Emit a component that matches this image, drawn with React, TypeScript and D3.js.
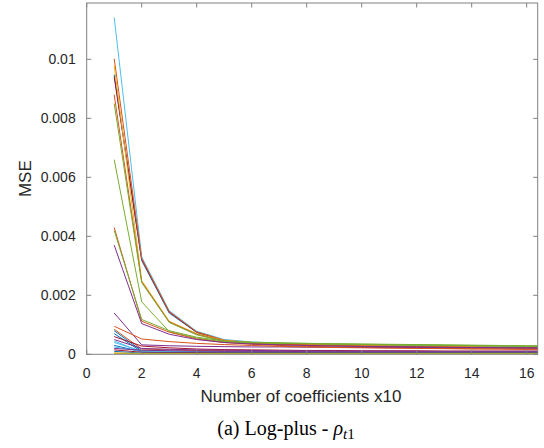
import React from "react";
import * as d3 from "d3";

// x positions (number of coefficients / 10)
const xValues = [1, 2, 3, 4, 5, 6, 7, 8, 9, 10, 11, 12, 13, 14, 15, 16, 17];

// MSE series (one per curve)
const s01 = [0.01142, 0.0033, 0.00148, 0.00078, 0.0005, 0.00042, 0.00038, 0.00035, 0.00033, 0.00031, 0.0003, 0.00029, 0.00028, 0.00027, 0.00026, 0.00025, 0.00025];
const s02 = [0.01002, 0.00325, 0.00145, 0.00076, 0.00048, 0.0004, 0.00036, 0.00033, 0.00031, 0.00029, 0.00028, 0.00027, 0.00026, 0.00025, 0.00024, 0.00023, 0.00023];
const s03 = [0.0098, 0.0025, 0.00112, 0.0007, 0.00047, 0.0004, 0.00036, 0.00033, 0.00031, 0.0003, 0.00028, 0.00027, 0.00026, 0.00025, 0.00024, 0.00023, 0.00023];
const s04 = [0.00948, 0.00318, 0.0014, 0.00074, 0.00046, 0.00038, 0.00034, 0.00031, 0.00029, 0.00027, 0.00026, 0.00025, 0.00024, 0.00023, 0.00022, 0.00021, 0.00021];
const s05 = [0.0094, 0.00322, 0.00143, 0.00075, 0.00047, 0.00039, 0.00035, 0.00032, 0.0003, 0.00028, 0.00027, 0.00026, 0.00025, 0.00024, 0.00023, 0.00022, 0.00022];
const s06 = [0.0088, 0.00246, 0.0011, 0.00068, 0.00045, 0.00038, 0.00034, 0.00032, 0.0003, 0.00028, 0.00027, 0.00026, 0.00025, 0.00024, 0.00023, 0.00022, 0.00022];
const s07 = [0.0085, 0.00243, 0.00108, 0.00066, 0.00044, 0.0004, 0.00038, 0.00037, 0.00035, 0.00034, 0.00033, 0.00032, 0.00031, 0.0003, 0.00029, 0.00028, 0.00028];
const s08 = [0.0066, 0.00178, 0.00077, 0.00055, 0.00042, 0.00039, 0.00037, 0.00036, 0.00034, 0.00033, 0.00032, 0.00031, 0.0003, 0.00029, 0.00028, 0.00027, 0.00027];
const s09 = [0.0043, 0.00112, 0.00075, 0.00052, 0.0004, 0.00034, 0.0003, 0.00027, 0.00025, 0.00023, 0.00022, 0.00021, 0.0002, 0.00019, 0.00018, 0.00017, 0.00017];
const s10 = [0.0042, 0.00118, 0.0008, 0.00058, 0.00045, 0.00041, 0.00039, 0.00037, 0.00036, 0.00035, 0.00034, 0.00033, 0.00032, 0.00031, 0.0003, 0.00029, 0.00029];
const s11 = [0.0037, 0.00104, 0.00068, 0.0005, 0.0004, 0.00035, 0.00032, 0.0003, 0.00028, 0.00027, 0.00026, 0.00025, 0.00024, 0.00023, 0.00022, 0.00021, 0.00021];
const s12 = [0.0014, 0.00032, 0.00029, 0.00027, 0.00026, 0.00025, 0.00025, 0.00024, 0.00024, 0.00023, 0.00023, 0.00023, 0.00022, 0.00022, 0.00022, 0.00022, 0.00022];
const s13 = [0.00095, 0.00052, 0.00043, 0.00037, 0.00033, 0.0003, 0.00027, 0.00025, 0.00023, 0.00022, 0.00021, 0.0002, 0.00019, 0.00018, 0.00018, 0.00017, 0.00017];
const s14 = [0.00085, 0.00018, 0.00015, 0.00013, 0.00012, 0.00011, 0.0001, 0.0001, 0.00009, 0.00009, 0.00009, 0.00008, 0.00008, 0.00008, 0.00008, 0.00008, 0.00008];
const s15 = [0.0008, 0.00012, 0.0001, 0.00009, 0.00008, 0.00008, 0.00007, 0.00007, 0.00007, 0.00006, 0.00006, 0.00006, 0.00006, 0.00006, 0.00006, 0.00006, 0.00006];
const s16 = [0.0007, 0.00009, 0.00008, 0.00007, 0.00007, 0.00006, 0.00006, 0.00006, 0.00006, 0.00005, 0.00005, 0.00005, 0.00005, 0.00005, 0.00005, 0.00005, 0.00005];
const s17 = [0.0006, 0.00028, 0.00022, 0.00018, 0.00016, 0.00015, 0.00014, 0.00013, 0.00013, 0.00012, 0.00012, 0.00012, 0.00011, 0.00011, 0.00011, 0.00011, 0.00011];
const s18 = [0.0005, 0.0002, 0.00017, 0.00015, 0.00014, 0.00013, 0.00012, 0.00012, 0.00011, 0.00011, 0.00011, 0.0001, 0.0001, 0.0001, 0.0001, 0.0001, 0.0001];
const s19 = [0.00045, 0.00008, 0.00007, 0.00006, 0.00006, 0.00006, 0.00005, 0.00005, 0.00005, 0.00005, 0.00005, 0.00005, 0.00005, 0.00005, 0.00005, 0.00005, 0.00005];
const s20 = [0.0004, 0.00011, 0.00009, 0.00008, 0.00008, 0.00007, 0.00007, 0.00007, 0.00007, 0.00007, 0.00007, 0.00007, 0.00007, 0.00007, 0.00007, 0.00007, 0.00007];
const s21 = [0.0003, 0.00009, 0.00008, 0.00007, 0.00006, 0.00006, 0.00006, 0.00006, 0.00006, 0.00006, 0.00006, 0.00006, 0.00006, 0.00006, 0.00006, 0.00006, 0.00006];
const s22 = [0.00025, 0.0001, 0.00009, 0.00008, 0.00008, 0.00008, 0.00008, 0.00008, 0.00008, 0.00008, 0.00008, 0.00008, 0.00008, 0.00008, 0.00008, 0.00008, 0.00008];
const s23 = [0.0002, 0.00014, 0.00012, 0.00011, 0.0001, 0.0001, 0.0001, 0.00009, 0.00009, 0.00009, 0.00009, 0.00009, 0.00009, 0.00009, 0.00009, 0.00009, 0.00009];
const s24 = [0.00015, 0.00007, 0.00006, 0.00006, 0.00005, 0.00005, 0.00005, 0.00005, 0.00005, 0.00005, 0.00005, 0.00005, 0.00005, 0.00005, 0.00005, 0.00005, 0.00005];
const s25 = [0.0001, 0.00004, 0.00004, 0.00004, 0.00004, 0.00004, 0.00004, 0.00004, 0.00004, 0.00004, 0.00004, 0.00004, 0.00004, 0.00004, 0.00004, 0.00004, 0.00004];
const s26 = [0.00005, 0.00003, 0.00003, 0.00003, 0.00003, 0.00003, 0.00003, 0.00003, 0.00003, 0.00003, 0.00003, 0.00003, 0.00003, 0.00003, 0.00003, 0.00003, 0.00003];
const s27 = [0.00003, 0.00002, 0.00002, 0.00002, 0.00002, 0.00002, 0.00002, 0.00002, 0.00002, 0.00002, 0.00002, 0.00002, 0.00002, 0.00002, 0.00002, 0.00002, 0.00002];
const s28 = [0.00002, 0.00001, 0.00001, 0.00001, 0.00001, 0.00001, 0.00001, 0.00001, 0.00001, 0.00001, 0.00001, 0.00001, 0.00001, 0.00001, 0.00001, 0.00001, 0.00001];

// drawing order (later drawn on top)
const seriesList = [s04, s05, s01, s02, s03, s06, s07, s08, s09, s10, s11, s12, s13, s14, s15, s16, s17, s18, s19, s20, s21, s22, s23, s24, s25, s26, s27, s28];

// MATLAB default colour order index for each series in seriesList
const seriesColorIndex = [0, 6, 5, 1, 2, 1, 4, 4, 1, 4, 3, 3, 1, 1, 0, 0, 6, 3, 5, 5, 0, 5, 3, 6, 0, 2, 4, 2];

const xTicks = [0, 2, 4, 6, 8, 10, 12, 14, 16];
const yTicks = [0, 0.002, 0.004, 0.006, 0.008, 0.01];
const yTickLabels = ["0", "0.002", "0.004", "0.006", "0.008", "0.01"];

const palette = ["#0072BD", "#D95319", "#EDB120", "#7E2F8E", "#77AC30", "#4DBEEE", "#A2142F"];

export default function App() {
  const W = 544;
  const H = 448;
  const left = 86.7;
  const right = 537.7;
  const top = 3;
  const bottom = 354.3;

  const x = d3.scaleLinear().domain([0, 16.4]).range([left, right]);
  const y = d3.scaleLinear().domain([0, 0.01191]).range([bottom, top]);

  const line = d3
    .line<number>()
    .x((_, i) => x(xValues[i]))
    .y((d) => y(d));

  const axisColor = "#808080";
  const textColor = "#262626";
  const tickLen = 4.5;
  const font = "'Liberation Sans', Arial, Helvetica, sans-serif";

  return (
    <svg
      width={W}
      height={H}
      style={{ position: "absolute", left: 0, top: 0, background: "#fff" }}
    >
      <defs>
        <clipPath id="plotClip">
          <rect x={left} y={top} width={right - left} height={bottom - top} />
        </clipPath>
      </defs>
      <rect x={0} y={0} width={W} height={H} fill="#fff" />
      <g clipPath="url(#plotClip)">
        {seriesList.map((s, i) => (
          <path
            key={i}
            d={line(s) || ""}
            fill="none"
            stroke={palette[seriesColorIndex[i]]}
            strokeWidth={1}
          />
        ))}
      </g>
      {/* box */}
      <rect
        x={left}
        y={top}
        width={right - left}
        height={bottom - top}
        fill="none"
        stroke={axisColor}
        strokeWidth={1}
      />
      {/* x ticks */}
      {xTicks.map((t) => (
        <g key={"xt" + t}>
          <line x1={x(t)} x2={x(t)} y1={bottom} y2={bottom - tickLen} stroke={axisColor} />
          <line x1={x(t)} x2={x(t)} y1={top} y2={top + tickLen} stroke={axisColor} />
          <text
            x={x(t)}
            y={bottom + 24}
            textAnchor="middle"
            fontFamily={font}
            fontSize={14}
            fill={textColor}
          >
            {t}
          </text>
        </g>
      ))}
      {/* y ticks */}
      {yTicks.map((t, i) => (
        <g key={"yt" + i}>
          <line x1={left} x2={left + tickLen} y1={y(t)} y2={y(t)} stroke={axisColor} />
          <line x1={right} x2={right - tickLen} y1={y(t)} y2={y(t)} stroke={axisColor} />
          <text
            x={left - 11}
            y={y(t)}
            dy="0.35em"
            textAnchor="end"
            fontFamily={font}
            fontSize={14}
            fill={textColor}
          >
            {yTickLabels[i]}
          </text>
        </g>
      ))}
      {/* axis labels */}
      <text
        x={301}
        y={402}
        textAnchor="middle"
        fontFamily={font}
        fontSize={17}
        fill={textColor}
      >
        Number of coefficients x10
      </text>
      <text
        transform={`translate(31, ${(top + bottom) / 2}) rotate(-90)`}
        textAnchor="middle"
        fontFamily={font}
        fontSize={17}
        fill={textColor}
      >
        MSE
      </text>
      {/* caption */}
      <text
        x={286}
        y={435}
        textAnchor="middle"
        fontFamily="'Liberation Serif', 'Times New Roman', serif"
        fontSize={20}
        fill="#000"
      >
        (a) Log-plus -{" "}
        <tspan fontStyle="italic">ρ</tspan>
        <tspan fontStyle="italic" fontSize={15} dy={4}>
          t
        </tspan>
        <tspan fontSize={15}>1</tspan>
      </text>
    </svg>
  );
}
